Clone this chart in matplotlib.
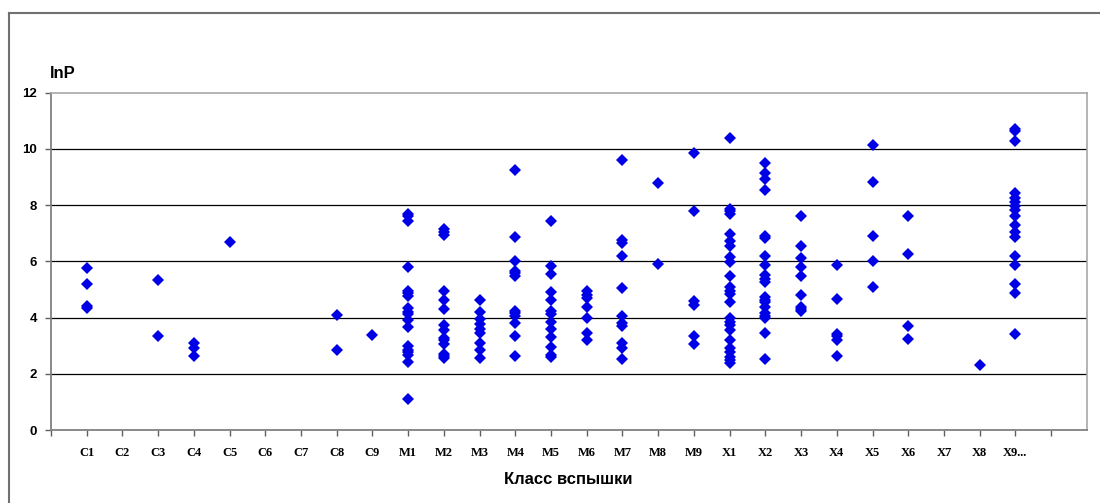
import matplotlib.pyplot as plt
from matplotlib.lines import Line2D

classes = ["C1", "C2", "C3", "C4", "C5", "C6", "C7", "C8", "C9",
           "M1", "M2", "M3", "M4", "M5", "M6", "M7", "M8", "M9",
           "X1", "X2", "X3", "X4", "X5", "X6", "X7", "X8", "X9..."]

# lnP values per flare class
C1 = [5.75, 5.2, 4.4, 4.35]
C3 = [5.35, 3.35]
C4 = [3.08, 2.9, 2.63]
C5 = [6.7]
C8 = [4.09, 2.83]
C9 = [3.37]
M1 = [7.68, 7.6, 7.43, 5.78, 4.95, 4.87, 4.77, 4.33, 4.19, 4.12, 3.92, 3.65,
      2.99, 2.85, 2.76, 2.66, 2.41, 1.12]
M2 = [7.14, 7.04, 6.95, 4.95, 4.62, 4.29, 3.74, 3.54, 3.27, 3.21, 3.05, 2.71,
      2.62, 2.55]
M3 = [4.62, 4.18, 3.94, 3.78, 3.61, 3.44, 3.11, 2.83, 2.57]
M4 = [9.23, 6.85, 6.01, 5.65, 5.58, 5.46, 4.25, 4.16, 4.04, 3.81, 3.35, 2.64]
M5 = [7.43, 5.82, 5.55, 4.92, 4.62, 4.22, 4.12, 3.85, 3.61, 3.31, 2.97, 2.67,
      2.59]
M6 = [4.93, 4.81, 4.69, 4.38, 3.97, 3.44, 3.19]
M7 = [9.61, 6.76, 6.65, 6.18, 5.04, 4.06, 3.82, 3.71, 3.11, 2.91, 2.52]
M8 = [8.78, 5.89]
M9 = [9.86, 7.78, 4.6, 4.43, 3.33, 3.06]
X1 = [10.38, 7.86, 7.78, 7.67, 6.97, 6.71, 6.53, 6.15, 5.96, 5.49, 5.09, 4.96,
      4.83, 4.55, 3.97, 3.84, 3.72, 3.56, 3.21, 2.93, 2.79, 2.59, 2.49, 2.4]
X2 = [9.49, 9.13, 8.91, 8.54, 6.91, 6.84, 6.2, 5.88, 5.52, 5.37, 5.27, 4.74,
      4.63, 4.54, 4.39, 4.16, 4.06, 3.97, 3.44, 2.52]
X3 = [7.6, 6.56, 6.1, 5.78, 5.46, 4.8, 4.39, 4.3, 4.22]
X4 = [5.86, 4.66, 3.42, 3.33, 3.21, 2.64]
X5 = [10.12, 8.81, 6.91, 6.01, 5.07]
X6 = [7.6, 6.25, 3.71, 3.25]
X8 = [2.32]
X9 = [10.71, 10.62, 10.27, 8.42, 8.25, 8.11, 7.97, 7.83, 7.6, 7.28, 7.05, 6.85,
      6.2, 5.87, 5.21, 4.87, 3.41]

series = {"C1": C1, "C3": C3, "C4": C4, "C5": C5, "C8": C8, "C9": C9,
          "M1": M1, "M2": M2, "M3": M3, "M4": M4, "M5": M5, "M6": M6,
          "M7": M7, "M8": M8, "M9": M9, "X1": X1, "X2": X2, "X3": X3,
          "X4": X4, "X5": X5, "X6": X6, "X8": X8, "X9...": X9}

fig = plt.figure(figsize=(11, 5.03), dpi=100)
ax = fig.add_axes([0.0464, 0.145, 0.9416, 0.671])

xs, ys = [], []
for name, vals in series.items():
    pos = classes.index(name) + 1
    xs += [pos] * len(vals)
    ys += vals
ax.plot(xs, ys, linestyle="none", marker="D", markersize=6,
        color="#0000e6", markeredgewidth=0)

ax.set_xlim(0, 29)
ax.set_ylim(0, 12)
ax.set_yticks(range(0, 13, 2))
ax.set_xticks(range(0, 29))
ax.set_xticklabels([""] + classes + [""], family="Liberation Serif",
                   fontweight="bold", fontsize=9)
ax.set_yticklabels([str(v) for v in range(0, 13, 2)],
                   family="Liberation Sans", fontweight="bold", fontsize=9.5)

for v in range(2, 12, 2):
    ax.axhline(v, color="black", linewidth=0.9, zorder=0)

for side in ["left", "bottom"]:
    ax.spines[side].set_color("#808080")
    ax.spines[side].set_linewidth(1.3)
for side in ["top", "right"]:
    ax.spines[side].set_color("#a8a8a8")
    ax.spines[side].set_linewidth(1.2)
ax.tick_params(axis="both", direction="out", length=4, width=1,
               color="#606060")
ax.tick_params(axis="x", pad=8)
ax.tick_params(axis="y", pad=6)

fig.text(50 / 1100, 1 - 73 / 503, "lnP", family="Liberation Sans",
         fontweight="bold", fontsize=12, va="center", ha="left")
fig.text(568 / 1100, 1 - 480 / 503, "Класс вспышки", family="Liberation Sans",
         fontweight="bold", fontsize=12, va="center", ha="center")

# outer frame
fig.add_artist(Line2D([9 / 1100, 9 / 1100], [0, 1 - 13 / 503],
                      transform=fig.transFigure, color="#707070", linewidth=1.5))
fig.add_artist(Line2D([9 / 1100, 1], [1 - 13 / 503, 1 - 13 / 503],
                      transform=fig.transFigure, color="#707070", linewidth=1.5))

fig.savefig("out.png", dpi=100)
